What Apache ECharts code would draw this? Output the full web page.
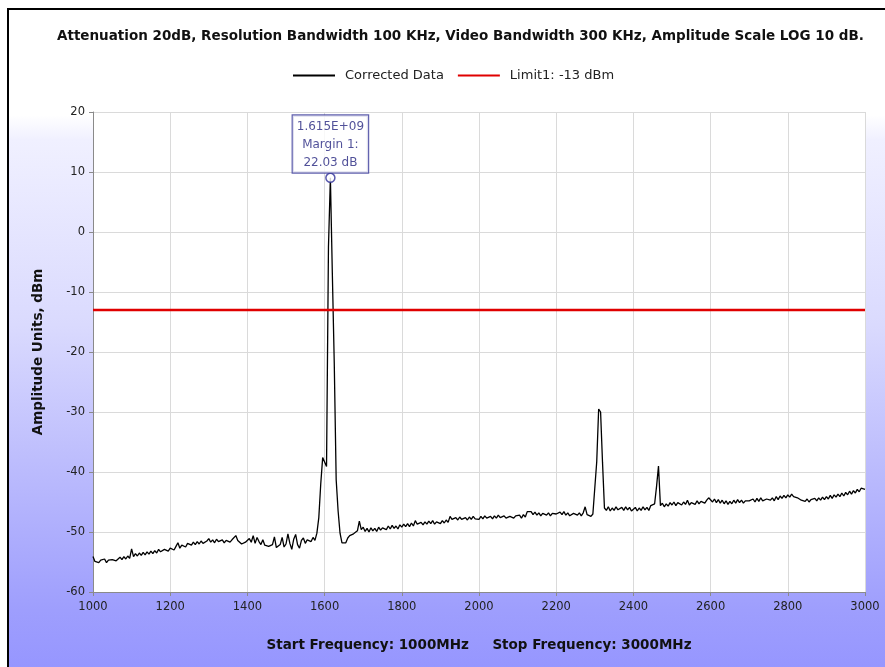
<!DOCTYPE html>
<html><head><meta charset="utf-8">
<script src="https://cdn.jsdelivr.net/npm/echarts@6/dist/echarts.min.js"></script>
<style>
html,body{margin:0;padding:0;background:#fff;overflow:hidden;width:885px;height:667px;}
#frame{position:absolute;left:7px;top:8px;width:878px;height:659px;box-sizing:border-box;border-top:2px solid #000;border-left:2px solid #000;
background:linear-gradient(to bottom,#ffffff 0px,#ffffff 105px,#f0f0ff 130px,#dadafe 315px,#bbbbfd 460px,#9e9efd 600px,#9696ff 659px);}
#chart{position:absolute;left:0;top:0;width:885px;height:667px;}
</style></head><body>
<div id="frame"></div><div id="chart"></div>
<script>
// ---- data ----
const titleText = 'Attenuation 20dB, Resolution Bandwidth 100 KHz, Video Bandwidth 300 KHz, Amplitude Scale LOG 10 dB.';
const traceName = 'Corrected Data';
const limitName = 'Limit1: -13 dBm';
const START_MHZ = 1000;
const STOP_MHZ = 3000;
const STEP_MHZ = 5;
// amplitude in dBm, one value per 5 MHz, one row per 100 MHz
const amplitudeDbm = [
  -54.1,-54.9,-54.6,-55.1,-54.7,-55.0,-54.5,-55.1,-54.7,-54.9,-54.6,-54.5,-54.8,-54.5,-54.2,-54.6,-54.1,-54.5,-54.0,-54.4,
  -52.8,-54.1,-53.6,-54.0,-53.5,-53.9,-53.4,-53.8,-53.3,-53.7,-53.2,-53.6,-53.1,-53.5,-52.9,-53.3,-53.4,-52.9,-52.8,-53.2,
  -52.7,-52.5,-53.0,-52.4,-51.8,-52.7,-52.2,-52.4,-52.5,-51.9,-52.0,-52.2,-51.7,-52.1,-51.6,-52.0,-51.5,-51.9,-51.6,-51.5,
  -51.1,-51.7,-51.3,-51.8,-51.2,-51.6,-51.7,-51.3,-51.8,-51.4,-51.2,-51.7,-51.3,-51.2,-50.6,-51.4,-51.7,-52.0,-52.2,-51.7,
  -51.8,-51.1,-51.7,-50.6,-51.9,-50.9,-51.6,-52.1,-51.3,-52.2,-52.0,-52.4,-52.7,-52.1,-50.8,-52.6,-52.8,-52.1,-50.9,-52.5,
  -52.0,-50.3,-51.9,-52.9,-51.2,-50.4,-52.1,-52.7,-51.4,-51.0,-51.9,-51.3,-51.1,-51.6,-50.9,-51.4,-50.2,-47.6,-42.0,-37.6,
  -37.4,-39.1,-2.5,9.03,-6.8,-21.8,-41.3,-46.5,-50.2,-51.8,-51.6,-51.8,-51.0,-50.6,-50.9,-50.3,-50.5,-49.8,-48.2,-49.6,
  -49.2,-49.9,-49.4,-50.0,-49.3,-49.8,-49.4,-49.9,-49.2,-49.7,-49.3,-49.1,-49.6,-49.0,-49.5,-48.9,-49.4,-49.0,-49.5,-48.8,
  -49.2,-48.7,-49.1,-48.6,-49.1,-48.5,-49.0,-48.1,-48.7,-48.9,-48.4,-48.8,-48.3,-48.7,-48.2,-48.6,-48.1,-48.7,-48.3,-48.2,
  -48.6,-48.1,-48.5,-48.0,-48.4,-47.4,-47.9,-48.1,-47.6,-48.0,-47.5,-47.9,-48.1,-47.6,-48.0,-47.5,-47.9,-47.4,-47.8,-47.5,
  -47.9,-47.4,-47.8,-47.3,-47.7,-47.9,-47.4,-47.8,-47.3,-47.7,-47.2,-47.6,-47.8,-47.3,-47.7,-47.9,-47.4,-47.2,-47.7,-47.3,
  -47.6,-47.2,-47.7,-47.1,-47.5,-46.6,-46.9,-46.6,-47.1,-46.7,-47.2,-46.8,-47.3,-46.9,-46.7,-47.2,-46.8,-47.3,-46.9,-46.7,
  -47.0,-47.2,-46.7,-47.1,-46.6,-47.2,-46.8,-47.3,-47.6,-46.9,-46.7,-47.2,-46.8,-47.3,-46.8,-45.8,-47.1,-47.0,-47.4,-47.0,
  -47.0,-38.3,-29.5,-30.0,-38.4,-46.0,-46.4,-45.8,-46.5,-46.0,-46.4,-45.8,-46.3,-46.6,-45.9,-46.4,-45.8,-46.3,-45.9,-46.5,
  -46.2,-45.9,-46.5,-46.0,-46.4,-45.8,-46.3,-45.9,-46.4,-45.6,-45.9,-45.3,-42.4,-39.0,-45.6,-45.2,-45.8,-45.3,-45.7,-45.1,
  -45.5,-45.0,-45.6,-45.1,-44.8,-45.5,-45.0,-45.4,-44.7,-45.5,-45.1,-44.9,-45.4,-44.8,-45.3,-44.9,-44.6,-45.2,-44.7,-44.3,
  -44.2,-45.0,-44.5,-45.1,-44.6,-45.2,-44.7,-45.3,-44.8,-45.4,-44.9,-45.3,-44.7,-45.2,-44.6,-45.1,-44.7,-45.2,-44.8,-44.5,
  -44.8,-45.1,-44.5,-45.0,-44.4,-44.9,-44.3,-44.8,-45.0,-44.5,-44.2,-44.7,-44.3,-44.8,-44.1,-44.6,-44.0,-44.4,-43.9,-44.3,
  -43.8,-44.2,-43.7,-44.1,-43.8,-44.3,-44.5,-44.7,-44.4,-44.9,-44.5,-45.0,-44.6,-44.9,-44.4,-44.8,-44.3,-44.7,-44.2,-44.6,
  -44.1,-44.5,-43.9,-44.4,-43.8,-44.2,-43.7,-44.1,-43.5,-44.0,-43.4,-43.8,-43.2,-43.7,-43.1,-43.5,-42.9,-43.3,-42.7,-42.6,
  -42.9
];
const limitFreqsMhz = [1000, 3000];
const limitDbm = -13;
const peakFreqMhz = 1615;
const peakDbm = 9.03;
const marginDb = 22.03;
const yMin = -60, yMax = 20, yStep = 10;
const xMin = 1000, xMax = 3000, xStep = 200;
const yAxisTitle = 'Amplitude Units, dBm';
const xAxisTitle = 'Start Frequency: 1000MHz     Stop Frequency: 3000MHz';

// ---- build ----
const traceData = amplitudeDbm.map((v, i) => [START_MHZ + i * STEP_MHZ, v]);
const limitData = limitFreqsMhz.map(f => [f, limitDbm]);

function sciLabel(hz) {
  const e = Math.floor(Math.log10(hz));
  const m = (hz / Math.pow(10, e)).toFixed(3);
  return m + 'E+' + String(e).padStart(2, '0');
}
const markerText = [sciLabel(peakFreqMhz * 1e6), 'Margin 1:', marginDb.toFixed(2) + ' dB'].join('\n');

const chart = echarts.init(document.getElementById('chart'), null, {renderer: 'canvas'});
const axisFont = 'DejaVu Sans';
chart.setOption({
  backgroundColor: 'transparent',
  animation: false,
  title: {
    text: titleText, left: 52, top: 24,
    textStyle: {fontFamily: 'DejaVu Sans', fontWeight: 'bold', fontSize: 13.5, color: '#111'}
  },
  legend: {
    left: 288, top: 64, itemWidth: 42, itemHeight: 2, itemGap: 14, icon: 'rect',
    textStyle: {fontFamily: 'DejaVu Sans', fontSize: 13, color: '#222', padding: [0, 0, 0, 5]},
    data: [traceName, limitName]
  },
  grid: {left: 93, right: 20, top: 112, bottom: 75, show: true, backgroundColor: '#ffffff', borderWidth: 0},
  xAxis: {
    type: 'value', min: xMin, max: xMax, interval: xStep,
    name: xAxisTitle, nameLocation: 'middle', nameGap: 46,
    nameTextStyle: {fontFamily: 'DejaVu Sans', fontWeight: 'bold', fontSize: 13.5, color: '#111'},
    axisLine: {show: true, onZero: false, lineStyle: {color: '#8a8a8a'}},
    axisTick: {show: true, inside: false, length: 4, lineStyle: {color: '#8a8a8a'}},
    axisLabel: {fontFamily: axisFont, fontSize: 11.5, color: '#222', margin: 9, formatter: v => String(v)},
    splitLine: {show: true, lineStyle: {color: '#dadada', width: 1}}
  },
  yAxis: {
    type: 'value', min: yMin, max: yMax, interval: yStep,
    name: yAxisTitle, nameLocation: 'middle', nameGap: 48, nameRotate: 90,
    nameTextStyle: {fontFamily: 'DejaVu Sans', fontWeight: 'bold', fontSize: 13.5, color: '#111'},
    axisLine: {show: true, lineStyle: {color: '#8a8a8a'}},
    axisTick: {show: true, inside: false, length: 4, lineStyle: {color: '#8a8a8a'}},
    axisLabel: {fontFamily: axisFont, fontSize: 11.5, color: '#222', margin: 8, formatter: v => String(v)},
    splitLine: {show: true, lineStyle: {color: '#dadada', width: 1}}
  },
  series: [
    {
      name: traceName, type: 'line', data: traceData, showSymbol: false, symbol: 'none',
      color: '#000', lineStyle: {color: '#000', width: 1.3}, z: 3
    },
    {
      name: limitName, type: 'line', data: limitData, showSymbol: false, symbol: 'none',
      color: '#e00000', lineStyle: {color: '#e00000', width: 2.5}, z: 4
    },
    {
      name: 'marker', type: 'scatter', data: [[peakFreqMhz, peakDbm]],
      symbol: 'circle', symbolSize: 9, z: 6,
      itemStyle: {color: '#ffffff', borderColor: '#2e2e99', borderWidth: 1.5},
      label: {
        show: true, position: 'top', distance: 0,
        formatter: markerText,
        fontFamily: 'DejaVu Sans', fontSize: 12, lineHeight: 18, color: '#25257f',
        backgroundColor: '#ffffff', borderColor: '#3a3a9a', borderWidth: 1.2,
        padding: [2, 4, 1, 4], align: 'center'
      }
    }
  ]
});
</script></body></html>
